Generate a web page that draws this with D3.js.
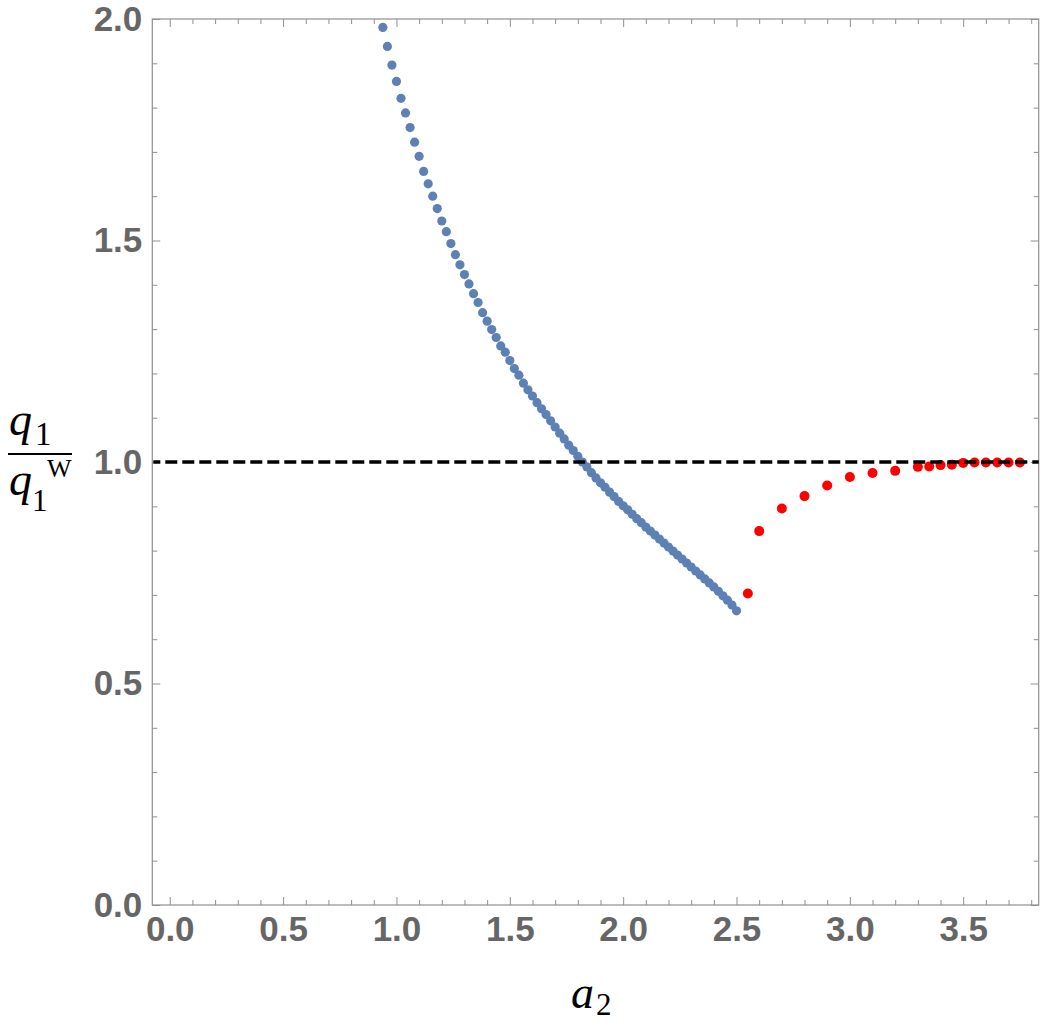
<!DOCTYPE html>
<html>
<head>
<meta charset="utf-8">
<script src="https://cdn.jsdelivr.net/npm/d3@7"></script>
<style>
  html, body { margin: 0; padding: 0; background: #fff; }
  svg { display: block; }
</style>
</head>
<body>
<div id="chart"></div>
<script>
// ---- data ----
const blueX = [0.94,0.96,0.98,1.00,1.02,1.04,1.06,1.08,1.10,1.12,1.14,1.16,1.18,1.20,1.22,1.24,1.26,1.28,1.30,1.32,
  1.34,1.36,1.38,1.40,1.42,1.44,1.46,1.48,1.50,1.52,1.54,1.56,1.58,1.60,1.62,1.64,1.66,1.68,1.70,1.72,
  1.74,1.76,1.78,1.80,1.82,1.84,1.86,1.88,1.90,1.92,1.94,1.96,1.98,2.00,2.02,2.04,2.06,2.08,2.10,2.12,
  2.14,2.16,2.18,2.20,2.22,2.24,2.26,2.28,2.30,2.32,2.34,2.36,2.38,2.40,2.42,2.44,2.46,2.48,2.50];
const blueY = [1.981,1.938,1.896,1.859,1.821,1.788,1.755,1.722,1.690,1.656,1.628,1.600,1.572,1.544,1.520,1.493,1.468,1.445,1.423,1.402,
  1.380,1.360,1.337,1.318,1.299,1.281,1.262,1.248,1.229,1.211,1.196,1.178,1.163,1.149,1.134,1.120,1.107,1.093,1.079,1.065,
  1.052,1.038,1.026,1.013,1.000,0.989,0.976,0.964,0.953,0.943,0.932,0.922,0.911,0.901,0.892,0.882,0.872,0.863,0.853,0.844,
  0.835,0.826,0.817,0.808,0.799,0.790,0.781,0.772,0.763,0.754,0.745,0.736,0.727,0.718,0.708,0.698,0.688,0.677,0.664];
const redX = [2.55,2.60,2.70,2.80,2.90,3.00,3.10,3.20,3.30,3.35,3.40,3.45,3.50,3.55,3.60,3.65,3.70,3.75];
const redY = [0.703,0.844,0.895,0.923,0.947,0.966,0.975,0.980,0.989,0.990,0.993,0.994,0.998,0.999,0.999,0.999,0.999,0.999];
const refLevel = 1.0;
const xMajor = [0.0,0.5,1.0,1.5,2.0,2.5,3.0,3.5];
const xMinor = [0.1,0.2,0.3,0.4,0.6,0.7,0.8,0.9,1.1,1.2,1.3,1.4,1.6,1.7,1.8,1.9,2.1,2.2,2.3,2.4,2.6,2.7,2.8,2.9,3.1,3.2,3.3,3.4,3.6,3.7,3.8];
const yMajor = [0.0,0.5,1.0,1.5,2.0];
const yMinor = [0.1,0.2,0.3,0.4,0.6,0.7,0.8,0.9,1.1,1.2,1.3,1.4,1.6,1.7,1.8,1.9];
const xDomain = [-0.077, 3.833];
const yDomain = [0, 2];

// ---- layout ----
const W = 1042, H = 1034;
const L = 152.3, R = 1038.7, T = 19, B = 905;

const svg = d3.select("#chart").append("svg").attr("width", W).attr("height", H);

const x = d3.scaleLinear().domain(xDomain).range([L, R]);
const y = d3.scaleLinear().domain(yDomain).range([B, T]);

const frameColor = "#8f8f8f";
const labelColor = "#666666";
const fmt = d3.format(".1f");

function styleAxis(g) {
  g.select(".domain").remove();
  g.selectAll(".tick line").attr("stroke", frameColor).attr("stroke-width", 1);
  g.selectAll(".tick text")
    .attr("fill", labelColor)
    .style("font-family", "'Liberation Sans', Arial, Helvetica, sans-serif")
    .style("font-weight", "bold")
    .style("font-size", "35px");
}

// bottom
svg.append("g").attr("transform", `translate(0,${B})`)
  .call(d3.axisBottom(x).tickValues(xMajor).tickSize(-8).tickPadding(11).tickFormat(fmt)).call(styleAxis);
svg.append("g").attr("transform", `translate(0,${B})`)
  .call(d3.axisBottom(x).tickValues(xMinor).tickSize(-5).tickFormat("")).call(styleAxis);
// top
svg.append("g").attr("transform", `translate(0,${T})`)
  .call(d3.axisTop(x).tickValues(xMajor).tickSize(-8).tickFormat("")).call(styleAxis);
svg.append("g").attr("transform", `translate(0,${T})`)
  .call(d3.axisTop(x).tickValues(xMinor).tickSize(-5).tickFormat("")).call(styleAxis);
// left
svg.append("g").attr("transform", `translate(${L},0)`)
  .call(d3.axisLeft(y).tickValues(yMajor).tickSize(-8).tickPadding(10).tickFormat(fmt)).call(styleAxis);
svg.append("g").attr("transform", `translate(${L},0)`)
  .call(d3.axisLeft(y).tickValues(yMinor).tickSize(-5).tickFormat("")).call(styleAxis);
// right
svg.append("g").attr("transform", `translate(${R},0)`)
  .call(d3.axisRight(y).tickValues(yMajor).tickSize(-8).tickFormat("")).call(styleAxis);
svg.append("g").attr("transform", `translate(${R},0)`)
  .call(d3.axisRight(y).tickValues(yMinor).tickSize(-5).tickFormat("")).call(styleAxis);

// frame
svg.append("rect")
  .attr("x", L).attr("y", T).attr("width", R - L).attr("height", B - T)
  .attr("fill", "none").attr("stroke", frameColor).attr("stroke-width", 1.2);

// points
const blue = blueX.map((v, i) => ({ x: v, y: blueY[i] }));
const red = redX.map((v, i) => ({ x: v, y: redY[i] }));

svg.append("g").selectAll("circle").data(blue).join("circle")
  .attr("cx", d => x(d.x)).attr("cy", d => y(d.y)).attr("r", 4.6)
  .attr("fill", "#5e81b5");

svg.append("g").selectAll("circle").data(red).join("circle")
  .attr("cx", d => x(d.x)).attr("cy", d => y(d.y)).attr("r", 5)
  .attr("fill", "#ff0000");

// dashed reference line
svg.append("line")
  .attr("x1", L + 1).attr("x2", R)
  .attr("y1", y(refLevel)).attr("y2", y(refLevel))
  .attr("stroke", "#000").attr("stroke-width", 3.5)
  .attr("stroke-dasharray", "12,5").attr("stroke-dashoffset", -12);

// x axis label: a_2
const serif = "'Liberation Serif', 'Times New Roman', Times, serif";
const xl = svg.append("text").attr("x", 571).attr("y", 1008)
  .style("font-family", serif).attr("fill", "#000");
xl.append("tspan").style("font-style", "italic").style("font-size", "46px").text("a");
xl.append("tspan").attr("dx", 2).attr("dy", 7).style("font-size", "31px").text("2");

// y axis label: q_1 / q_1^W
const num = svg.append("text").attr("x", 9).attr("y", 435)
  .style("font-family", serif).attr("fill", "#000");
num.append("tspan").style("font-style", "italic").style("font-size", "46px").text("q");
num.append("tspan").attr("dx", 3).attr("dy", 10).style("font-size", "33px").text("1");

svg.append("line").attr("x1", 8).attr("x2", 72).attr("y1", 454).attr("y2", 454)
  .attr("stroke", "#000").attr("stroke-width", 2);

const den = svg.append("text").attr("x", 9).attr("y", 495)
  .style("font-family", serif).attr("fill", "#000");
den.append("tspan").style("font-style", "italic").style("font-size", "46px").text("q");
den.append("tspan").attr("x", 32).attr("y", 511).style("font-size", "31px").text("1");
svg.append("text").attr("x", 47).attr("y", 477)
  .style("font-family", serif).style("font-size", "26px").attr("fill", "#000").text("W");
</script>
</body>
</html>
